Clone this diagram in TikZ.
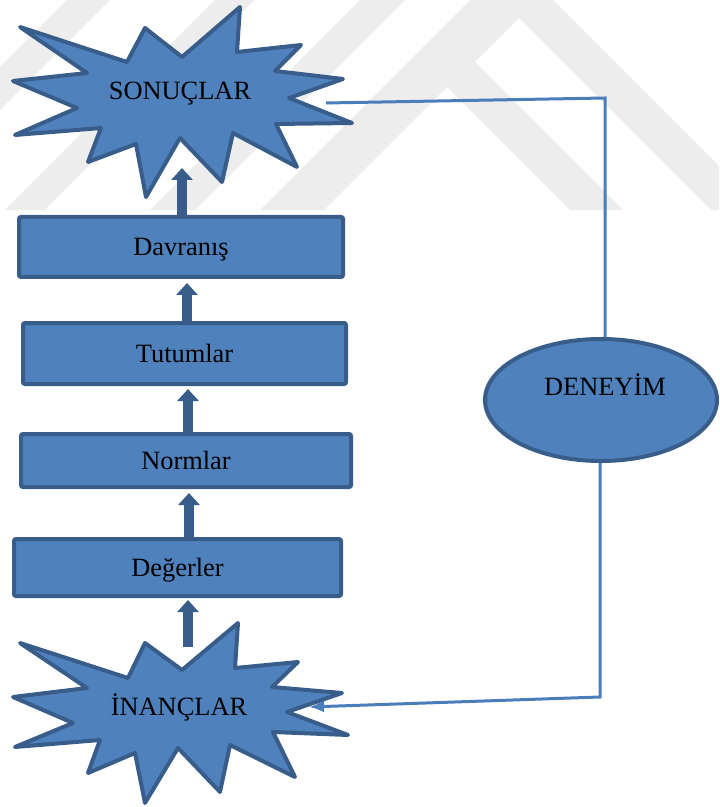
\documentclass[tikz,border=0pt]{standalone}
\usepackage{fontspec}
\setmainfont{Liberation Serif}
\usetikzlibrary{arrows.meta,shapes.geometric}
\definecolor{fillblue}{HTML}{4F81BD}
\definecolor{edgeblue}{HTML}{385D8A}
\definecolor{lineblue}{HTML}{4A7EBB}
\definecolor{wmgray}{HTML}{EDEDED}
\begin{document}
\begin{tikzpicture}[x=0.5pt,y=-0.5pt,
  every node/.style={font=\fontsize{13.2}{15}\selectfont},
  box/.style={draw=edgeblue, fill=fillblue, line width=2pt, rounded corners=1pt, inner sep=0pt, text height=8.7pt, text depth=0pt},
  starshape/.style={draw=edgeblue, fill=fillblue, line width=2pt, line join=round},
  ovalshape/.style={ellipse, draw=edgeblue, fill=fillblue, line width=2pt, inner sep=0pt},
  blockarr/.style={draw=edgeblue, line width=5pt, -{Triangle[width=10.5pt,length=6pt]}},
  conn/.style={draw=lineblue, line width=1.5pt},
  wm/.style={fill=wmgray}
]
\useasboundingbox (0,0) rectangle (719,807);
% watermark
\begin{scope}
\clip (0,0) rectangle (719,210);
\fill[wm] (470,0) -- (553,0) -- (719,166) -- (719,210) -- (711,210) -- (519,18) -- (475,62) -- (623,210) -- (570,210) -- (447,87) -- (324,210) -- (260,210) -- cycle;
\fill[wm] (360,0) -- (405,0) -- (195,210) -- (150,210) -- cycle;
\fill[wm] (215,0) -- (255,0) -- (45,210) -- (5,210) -- cycle;
\fill[wm] (67,0) -- (110,0) -- (-100,210) -- (-143,210) -- cycle;
\end{scope}
% stars
\draw[starshape] (20,27) -- (127,62) -- (145,28) -- (182,57) -- (240,7) -- (237,52) -- (301,45) -- (275,71) -- (343,79) -- (289,98) -- (352,123) -- (276,124) -- (297,167) -- (233,133) -- (222,182) -- (180,138) -- (146,197) -- (136,144) -- (88,162) -- (101,128) -- (15,135) -- (77,108) -- (13,81) -- (87,73) -- cycle;
\node[anchor=base] (son) at (180,100) {SONUÇLAR};
\draw[starshape] (20,643) -- (128,678) -- (145,643) -- (182,670) -- (238,623) -- (235,668) -- (298,662) -- (272,687) -- (342,693) -- (287,712) -- (348,735) -- (273,732) -- (295,777) -- (230,745) -- (220,792) -- (178,748) -- (145,803) -- (135,753) -- (88,773) -- (100,740) -- (15,747) -- (73,723) -- (13,697) -- (87,688) -- cycle;
\node[anchor=base] (inan) at (179,715) {İNANÇLAR};
% boxes
\node[box, minimum width=162pt, minimum height=30pt] (dav) at (181,247) {Davranış};
\node[box, minimum width=161.5pt, minimum height=30.5pt] (tut) at (184.5,353.5) {Tutumlar};
\node[box, minimum width=165pt, minimum height=26.5pt] (nor) at (186,460.5) {Normlar};
\node[box, minimum width=163.5pt, minimum height=28.5pt] (deg) at (177.5,567.5) {Değerler};
% ellipse
\node[ovalshape, minimum width=116pt, minimum height=61pt] (den) at (601,400) {};
\node[anchor=base] (dent) at (605,395) {DENEYİM};
% connectors
\coordinate (sonR) at (326,103);
\coordinate (c1) at (605,98);
\coordinate (c2) at (600,697);
\coordinate (inanR) at (309,707);
\draw[conn] (sonR) -- (c1) -- (c1 |- den.north);
\draw[conn, -{Latex[length=7.5pt,width=6pt]}] (c2 |- den.south) -- (c2) -- (inanR);
% block arrows
\coordinate (inanTop) at (188,647);
\coordinate (sonBot) at (182,168);
\draw[blockarr] (inanTop) -- ([xshift=5.25pt,yshift=-1pt]deg.south);
\draw[blockarr] ([xshift=5.75pt]deg.north) -- ([xshift=1.5pt,yshift=-2pt]nor.south);
\draw[blockarr] ([xshift=1pt]nor.north) -- ([xshift=1.75pt,yshift=-1.5pt]tut.south);
\draw[blockarr] ([xshift=1.25pt]tut.north) -- ([xshift=3pt,yshift=-2pt]dav.south);
\draw[blockarr] ([xshift=0.5pt]dav.north) -- (sonBot);
\end{tikzpicture}
\end{document}
